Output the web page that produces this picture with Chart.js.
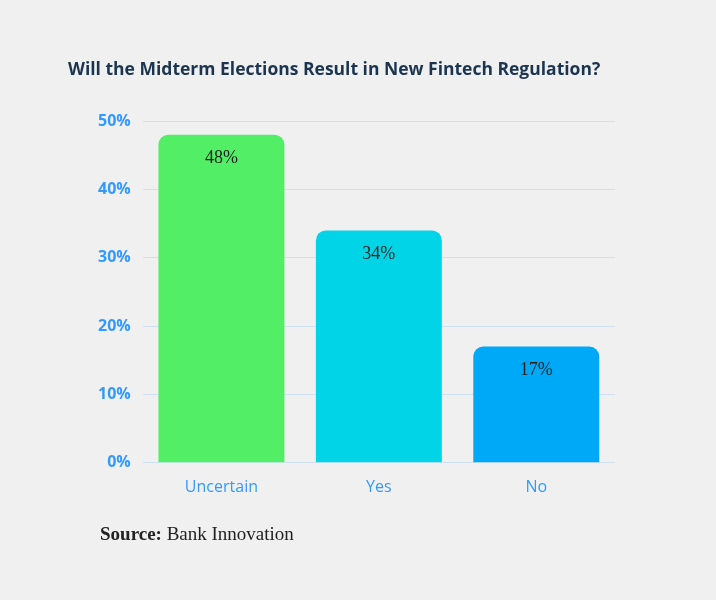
<!DOCTYPE html>
<html>
<head>
<meta charset="utf-8">
<script src="https://cdn.jsdelivr.net/npm/chart.js@4"></script>
<style>
  body { margin: 0; background: #f0f0f0; }
  #wrap { position: relative; width: 716px; height: 600px; }
  #titulo { position: absolute; left: 68px; top: 56px; font: bold 17.5px "Open Sans", sans-serif; color: #1b3550; }
  #fonte { position: absolute; left: 100px; top: 523px; font: 19px "Liberation Serif", serif; color: #222; }
</style>
</head>
<body>
<div id="wrap">
  <canvas id="grafico" width="716" height="600"></canvas>
  <div id="titulo">Will the Midterm Elections Result in New Fintech Regulation?</div>
  <div id="fonte"><b>Source:</b> Bank Innovation</div>
</div>
<script>
// Dados do gráfico
const categorias = ['Uncertain', 'Yes', 'No'];
const valores = [48, 34, 17];
const cores = ['#52ee66', '#00d4e6', '#00a9f7'];

// Plugin para escrever o valor dentro da barra
const rotulosValor = {
    id: 'rotulosValor',
    afterDatasetsDraw(chart) {
        const ctx = chart.ctx;
        ctx.save();
        ctx.font = '18px "Liberation Serif", serif';
        ctx.fillStyle = '#222';
        ctx.textAlign = 'center';
        ctx.textBaseline = 'middle';
        chart.getDatasetMeta(0).data.forEach((bar, i) => {
            ctx.fillText(valores[i] + '%', bar.x, bar.y + 24);
        });
        ctx.restore();
    }
};

new Chart(document.getElementById('grafico'), {
    type: 'bar',
    data: {
        labels: categorias,
        datasets: [{
            data: valores,
            backgroundColor: cores,
            borderRadius: { topLeft: 10, topRight: 10 },
            borderSkipped: 'bottom',
            categoryPercentage: 1,
            barPercentage: 0.8
        }]
    },
    options: {
        responsive: false,
        animation: false,
        layout: { padding: { left: 86, right: 101, top: 121, bottom: 96 } },
        plugins: { legend: { display: false }, tooltip: { enabled: false } },
        scales: {
            x: {
                grid: { display: false },
                border: { display: false },
                ticks: { color: '#3399ff', font: { family: 'Open Sans', size: 16 }, padding: 7 }
            },
            y: {
                min: 0, max: 50,
                grid: { color: '#cfe0f0', drawTicks: false },
                border: { display: false },
                ticks: {
                    stepSize: 10, padding: 12, color: '#3399ff',
                    font: { family: 'Open Sans', size: 16, weight: 'bold' },
                    callback: v => v + '%'
                }
            }
        }
    },
    plugins: [rotulosValor]
});
</script>
</body>
</html>
